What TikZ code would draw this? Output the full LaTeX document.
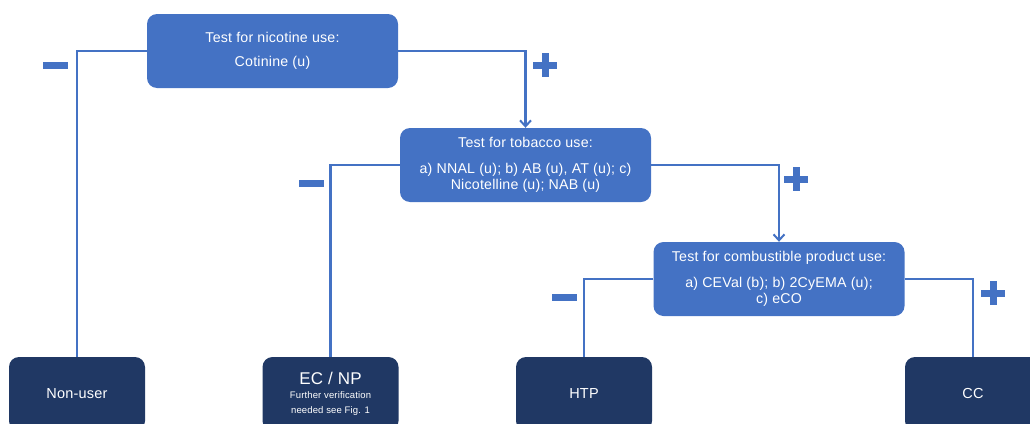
\documentclass[tikz,border=0pt]{standalone}
\usepackage{fontspec}
\setmainfont{Liberation Sans}[LetterSpace=1.5]
\usetikzlibrary{arrows.meta}
\definecolor{boxblue}{HTML}{4472C4}
\definecolor{darkblue}{HTML}{203864}
\definecolor{linec}{HTML}{4472C4}
\tikzset{
  testbox/.style={rectangle, rounded corners=10pt, fill=boxblue, draw=none,
    minimum width=251pt, minimum height=74pt, inner sep=0pt, text=white,
    align=center, font=\fontsize{14.2}{16}\selectfont},
  endbox/.style={rectangle, rounded corners=10pt, fill=darkblue, draw=none,
    minimum width=136pt, minimum height=74pt, inner sep=0pt, text=white,
    align=center, font=\fontsize{14.5}{16}\selectfont},
  conn/.style={draw=linec, line width=2.3pt},
  arr/.style={conn, -{Straight Barb[length=6pt,width=11pt,line width=2pt]}},
}
\newcommand{\minussign}[2]{\fill[linec] (#1-12.5,#2-3.5) rectangle (#1+12.5,#2+3.5);}
\newcommand{\plussign}[2]{\fill[linec] (#1-12,#2-3.5) rectangle (#1+12,#2+3.5);
  \fill[linec] (#1-3.5,#2-12) rectangle (#1+3.5,#2+12);}
\begin{document}
\begin{tikzpicture}[x=1pt,y=-1pt]
\useasboundingbox (0,0) rectangle (1030,423);
\clip (0,0) rectangle (1030,423);
% test boxes
\node[testbox] (b1) at (272.5,51) {Test for nicotine use:\\[8pt]Cotinine (u)};
\node[testbox] (b2) at (525.5,165) {Test for tobacco use:\\[10pt]a) NNAL (u); b) AB (u), AT (u); c)\\Nicotelline (u); NAB (u)};
\node[testbox] (b3) at (779,279) {Test for combustible product use:\\[10pt]a) CEVal (b); b) 2CyEMA (u);\\c) eCO};
% end boxes
\node[endbox] (nu) at (77,394) {Non-user};
\node[endbox] (ec) at (330.5,394) {{\fontsize{17}{17}\selectfont EC / NP}\\[-2pt]{\fontsize{9.5}{10}\selectfont Further verification}\\[-1pt]{\fontsize{9.5}{10}\selectfont needed see Fig. 1}};
\node[endbox] (htp) at (584,394) {HTP};
\node[endbox] (cc) at (973,394) {CC};
% connectors
\draw[conn] (b1.west) -| (nu.north);
\draw[arr] (b1.east) -| (b2.north);
\draw[conn] (b2.west) -| (ec.north);
\draw[arr] (b2.east) -| (b3.north);
\draw[conn] (b3.west) -| (htp.north);
\draw[conn] (b3.east) -| (cc.north);
% signs
\minussign{55.5}{65.5}
\plussign{545}{65}
\minussign{311}{183}
\plussign{796}{179}
\minussign{564}{297}
\plussign{993}{293}
\end{tikzpicture}
\end{document}
